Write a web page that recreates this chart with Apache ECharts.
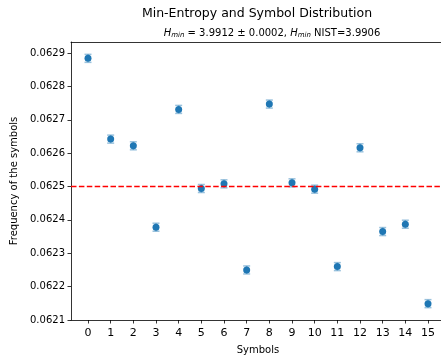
<!DOCTYPE html>
<html>
<head>
<meta charset="utf-8">
<script src="https://cdn.jsdelivr.net/npm/echarts@6/dist/echarts.min.js"></script>
<style>
  html, body { margin: 0; padding: 0; background: #fff; }
  #chart { width: 441px; height: 358px; }
</style>
</head>
<body>
<div id="chart"></div>
<script>
// Symbols 0..15 and their measured frequencies
const symbols = [0, 1, 2, 3, 4, 5, 6, 7, 8, 9, 10, 11, 12, 13, 14, 15];
const frequencies = [
  0.062884, 0.062642, 0.062622, 0.062378, 0.062731, 0.062494, 0.062508, 0.062250,
  0.062747, 0.062511, 0.062492, 0.062260, 0.062616, 0.062365, 0.062387, 0.062149
];
const errors = [
  0.000012, 0.000012, 0.000012, 0.000012, 0.000012, 0.000012, 0.000012, 0.000012,
  0.000012, 0.000012, 0.000012, 0.000012, 0.000012, 0.000012, 0.000012, 0.000012
];
const uniformLevel = 0.0625;
const yTicks = [0.0621, 0.0622, 0.0623, 0.0624, 0.0625, 0.0626, 0.0627, 0.0628, 0.0629];
const xRange = [-0.75, 15.75];

const FONT = 'DejaVu Sans';
const BLUE = '#1f77b4';

const points = symbols.map((s, i) => [s, frequencies[i]]);
const errData = symbols.map((s, i) => [s, frequencies[i] - errors[i], frequencies[i] + errors[i]]);
const refLine = xRange.map(x => [x, uniformLevel]);

const chart = echarts.init(document.getElementById('chart'), null, { renderer: 'canvas' });

chart.setOption({
  animation: false,
  backgroundColor: '#fff',
  textStyle: { fontFamily: FONT },
  title: [
    {
      text: 'Min-Entropy and Symbol Distribution',
      left: 252, top: 2, textAlign: 'center',
      textStyle: { fontFamily: FONT, fontSize: 12.5, fontWeight: 'normal', color: '#000' }
    },
    {
      text: '{i|H}{s|min} = 3.9912 ± 0.0002, {i|H}{s|min} NIST=3.9906',
      left: 267, top: 22, textAlign: 'center',
      textStyle: {
        fontFamily: FONT, fontSize: 10, fontWeight: 'normal', color: '#000',
        rich: {
          i: { fontFamily: FONT, fontSize: 10, fontStyle: 'italic', color: '#000' },
          s: { fontFamily: FONT, fontSize: 7, fontStyle: 'italic', color: '#000', padding: [5, 0, 0, 0] }
        }
      }
    }
  ],
  grid: { left: 71, top: 42, width: 374, height: 278, containLabel: false, outerBoundsMode: 'none' },
  xAxis: [
    {
      type: 'value', min: xRange[0], max: xRange[1],
      name: 'Symbols', nameLocation: 'middle', nameGap: 25,
      nameTextStyle: { fontFamily: FONT, fontSize: 10, color: '#000' },
      axisLine: { show: true, onZero: false, lineStyle: { color: '#000', width: 0.8 } },
      axisTick: { show: true, length: 3.5, lineStyle: { color: '#000', width: 0.8 }, customValues: symbols },
      axisLabel: { fontFamily: FONT, fontSize: 11, color: '#000', margin: 8, customValues: symbols },
      splitLine: { show: false }
    },
    {
      type: 'value', min: xRange[0], max: xRange[1], position: 'top',
      axisLine: { show: true, onZero: false, lineStyle: { color: '#000', width: 0.8 } },
      axisTick: { show: false }, axisLabel: { show: false }, splitLine: { show: false }
    }
  ],
  yAxis: {
    type: 'value', min: 0.06210, max: 0.062933,
    name: 'Frequency of the symbols', nameLocation: 'middle', nameGap: 48,
    nameTextStyle: { fontFamily: FONT, fontSize: 10, color: '#000' },
    axisLine: { show: true, onZero: false, lineStyle: { color: '#000', width: 0.8 } },
    axisTick: { show: true, length: 3.5, lineStyle: { color: '#000', width: 0.8 }, customValues: yTicks },
    axisLabel: {
      fontFamily: FONT, fontSize: 10, color: '#000', margin: 6, customValues: yTicks,
      formatter: v => v.toFixed(4)
    },
    splitLine: { show: false }
  },
  series: [
    {
      // horizontal reference at the uniform frequency 1/16
      type: 'line',
      name: 'uniform',
      xAxisIndex: 0,
      data: refLine,
      symbol: 'none',
      z: 4,
      lineStyle: { color: '#ff0000', type: [5.5, 2.4], width: 1.5 }
    },
    {
      type: 'custom',
      name: 'error',
      xAxisIndex: 0,
      data: errData,
      z: 2,
      renderItem: (params, api) => {
        const lo = api.coord([api.value(0), api.value(1)]);
        const hi = api.coord([api.value(0), api.value(2)]);
        const cap = 3.5;
        const style = { stroke: 'rgba(31,119,180,0.45)', lineWidth: 1.5, fill: null };
        return {
          type: 'group',
          children: [
            { type: 'line', shape: { x1: lo[0], y1: lo[1], x2: hi[0], y2: hi[1] }, style },
            { type: 'line', shape: { x1: lo[0] - cap, y1: lo[1], x2: lo[0] + cap, y2: lo[1] }, style },
            { type: 'line', shape: { x1: hi[0] - cap, y1: hi[1], x2: hi[0] + cap, y2: hi[1] }, style }
          ]
        };
      }
    },
    {
      type: 'scatter',
      name: 'frequency',
      xAxisIndex: 0,
      data: points,
      symbol: 'circle',
      symbolSize: 7,
      z: 3,
      itemStyle: { color: BLUE, opacity: 1 }
    }
  ]
});
</script>
</body>
</html>
